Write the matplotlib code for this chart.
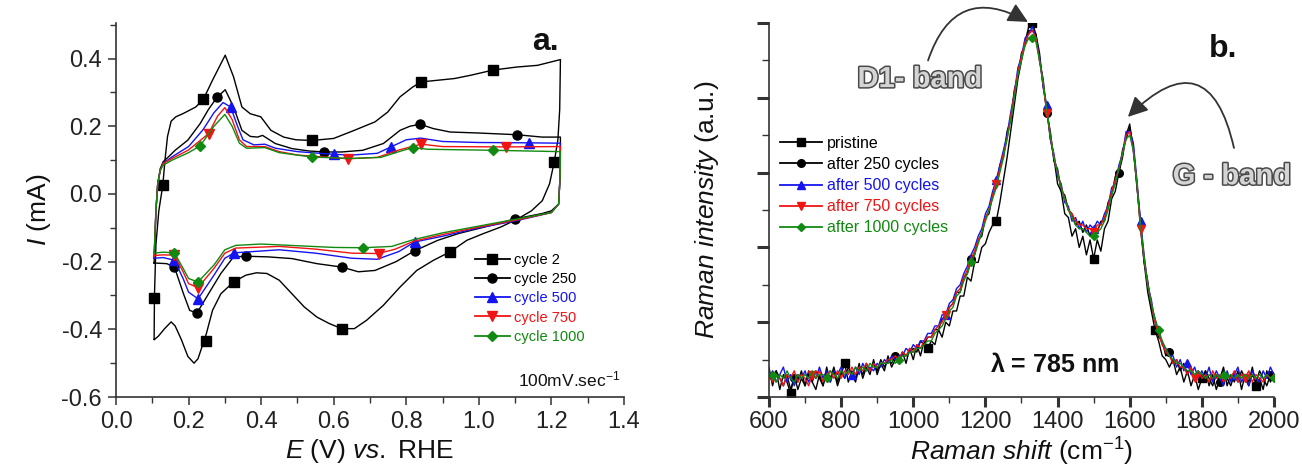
import numpy as np
import matplotlib
matplotlib.use("Agg")
import matplotlib.pyplot as plt
from matplotlib.lines import Line2D
from matplotlib.patches import FancyArrowPatch
from matplotlib.ticker import MultipleLocator
import matplotlib.patheffects as pe

plt.rcParams['font.family'] = ['Liberation Sans', 'DejaVu Sans']
plt.rcParams['mathtext.fontset'] = 'custom'
plt.rcParams['mathtext.rm'] = 'Liberation Sans'
plt.rcParams['mathtext.it'] = 'Liberation Sans:italic'
plt.rcParams['mathtext.bf'] = 'Liberation Sans:bold'

# ---------------- panel a: cyclic voltammograms ----------------
cycle_labels = ['cycle 2', 'cycle 250', 'cycle 500', 'cycle 750', 'cycle 1000']

# cycle 2
c2_E = [0.105, 0.106, 0.110, 0.118, 0.129, 0.135, 0.142, 0.152, 0.165, 0.186, 0.220, 0.241, 0.266,
        0.301, 0.324, 0.347, 0.370, 0.399, 0.427, 0.462, 0.496, 0.540, 0.600, 0.657, 0.714, 0.749,
        0.783, 0.818, 0.841, 0.887, 0.933, 0.979, 1.039, 1.105, 1.162, 1.225,
        1.225, 1.223, 1.218, 1.208, 1.195, 1.175, 1.145, 1.105, 1.060, 1.013, 0.967, 0.921, 0.875,
        0.829, 0.783, 0.737, 0.691, 0.657, 0.622, 0.588, 0.554, 0.519, 0.485, 0.450, 0.416, 0.387,
        0.358, 0.324, 0.289, 0.266, 0.249, 0.226, 0.215, 0.198, 0.180, 0.163, 0.152, 0.134, 0.117, 0.106]
c2_I = [-0.43, -0.30, -0.15, -0.05, 0.026, 0.10, 0.17, 0.215, 0.228, 0.238, 0.257, 0.280, 0.336,
        0.410, 0.346, 0.257, 0.237, 0.228, 0.188, 0.168, 0.160, 0.158, 0.164, 0.188, 0.213, 0.242,
        0.287, 0.316, 0.331, 0.336, 0.341, 0.351, 0.366, 0.375, 0.380, 0.397,
        0.397, 0.25, 0.16, 0.095, 0.03, -0.02, -0.05, -0.075, -0.098, -0.117, -0.137, -0.171, -0.196,
        -0.226, -0.275, -0.329, -0.373, -0.398, -0.398, -0.383, -0.364, -0.334, -0.295, -0.255, -0.235, -0.233,
        -0.240, -0.260, -0.295, -0.344, -0.413, -0.487, -0.500, -0.480, -0.430, -0.390, -0.378, -0.398, -0.420, -0.430]
c2_mE = [0.106, 0.129, 0.241, 0.540, 0.841, 1.039, 1.208, 0.921, 0.622, 0.324, 0.249]
c2_mI = [-0.307, 0.026, 0.280, 0.158, 0.331, 0.366, 0.095, -0.171, -0.398, -0.260, -0.434]

# cycle 250
c250_E = [0.105, 0.107, 0.110, 0.115, 0.122, 0.130, 0.145, 0.163, 0.198, 0.232, 0.255, 0.278, 0.301,
          0.324, 0.347, 0.370, 0.390, 0.404, 0.439, 0.485, 0.531, 0.574, 0.622, 0.680, 0.737, 0.783,
          0.810, 0.838, 0.875, 0.921, 1.000, 1.105, 1.174, 1.225,
          1.225, 1.224, 1.220, 1.200, 1.174, 1.099, 1.059, 1.000, 0.944, 0.887, 0.823, 0.772, 0.714,
          0.668, 0.622, 0.554, 0.485, 0.420, 0.358, 0.324, 0.289, 0.255, 0.223, 0.203, 0.186, 0.161,
          0.140, 0.105]
c250_I = [-0.204, -0.15, -0.05, 0.03, 0.075, 0.095, 0.110, 0.129, 0.159, 0.208, 0.250, 0.285, 0.308,
          0.257, 0.188, 0.170, 0.168, 0.173, 0.149, 0.134, 0.127, 0.124, 0.124, 0.129, 0.149, 0.188,
          0.200, 0.206, 0.193, 0.183, 0.180, 0.175, 0.168, 0.168,
          0.168, 0.05, -0.03, -0.05, -0.058, -0.074, -0.086, -0.102, -0.117, -0.137, -0.168, -0.200, -0.226,
          -0.230, -0.216, -0.206, -0.191, -0.186, -0.184, -0.186, -0.235, -0.295, -0.352, -0.344, -0.295, -0.216,
          -0.206, -0.204]
c250_mE = [0.278, 0.574, 0.838, 1.105, 1.099, 0.823, 0.622, 0.358, 0.223, 0.161]
c250_mI = [0.285, 0.124, 0.206, 0.175, -0.074, -0.168, -0.216, -0.184, -0.352, -0.216]

# cycle 500
c500_E = [0.105, 0.107, 0.110, 0.115, 0.122, 0.130, 0.155, 0.200, 0.240, 0.270, 0.295, 0.316, 0.335,
          0.350, 0.380, 0.410, 0.440, 0.500, 0.600, 0.650, 0.720, 0.758, 0.800, 0.840, 0.900, 1.000,
          1.139, 1.225,
          1.225, 1.224, 1.220, 1.200, 1.100, 1.000, 0.900, 0.823, 0.780, 0.720, 0.650, 0.550, 0.450,
          0.326, 0.300, 0.270, 0.226, 0.200, 0.185, 0.161, 0.130, 0.105]
c500_I = [-0.19, -0.14, -0.05, 0.03, 0.07, 0.09, 0.11, 0.14, 0.19, 0.24, 0.27, 0.257, 0.20,
          0.16, 0.145, 0.147, 0.135, 0.125, 0.117, 0.115, 0.120, 0.139, 0.160, 0.165, 0.155, 0.152,
          0.151, 0.150,
          0.150, 0.05, -0.03, -0.055, -0.08, -0.10, -0.125, -0.142, -0.17, -0.193, -0.19, -0.175, -0.165,
          -0.174, -0.19, -0.24, -0.31, -0.29, -0.25, -0.196, -0.188, -0.19]
c500_mE = [0.316, 0.600, 0.758, 1.139, 0.823, 0.326, 0.226, 0.161]
c500_mI = [0.257, 0.117, 0.139, 0.151, -0.142, -0.174, -0.310, -0.196]

# cycle 750
c750_E = [0.105, 0.107, 0.110, 0.115, 0.122, 0.130, 0.155, 0.200, 0.255, 0.280, 0.300, 0.320, 0.340,
          0.360, 0.410, 0.450, 0.500, 0.640, 0.720, 0.780, 0.841, 0.900, 1.076, 1.225,
          1.225, 1.224, 1.220, 1.200, 1.100, 1.000, 0.900, 0.820, 0.770, 0.724, 0.650, 0.550, 0.450,
          0.330, 0.300, 0.270, 0.226, 0.200, 0.185, 0.161, 0.130, 0.105]
c750_I = [-0.185, -0.13, -0.05, 0.03, 0.07, 0.09, 0.105, 0.13, 0.178, 0.23, 0.255, 0.22, 0.16,
          0.14, 0.14, 0.125, 0.115, 0.104, 0.108, 0.13, 0.147, 0.14, 0.139, 0.14,
          0.14, 0.05, -0.03, -0.055, -0.078, -0.098, -0.12, -0.14, -0.163, -0.176, -0.175, -0.163, -0.155,
          -0.16, -0.175, -0.22, -0.277, -0.265, -0.23, -0.181, -0.18, -0.182]
c750_mE = [0.255, 0.640, 0.841, 1.076, 0.724, 0.226, 0.161]
c750_mI = [0.178, 0.104, 0.147, 0.139, -0.176, -0.277, -0.181]

# cycle 1000
c1000_E = [0.105, 0.107, 0.110, 0.115, 0.122, 0.130, 0.155, 0.200, 0.232, 0.270, 0.300, 0.320, 0.340,
           0.360, 0.410, 0.450, 0.540, 0.650, 0.730, 0.780, 0.818, 0.860, 1.039, 1.225,
           1.225, 1.224, 1.220, 1.200, 1.100, 1.000, 0.900, 0.820, 0.760, 0.680, 0.600, 0.500, 0.400,
           0.330, 0.300, 0.270, 0.226, 0.200, 0.185, 0.161, 0.130, 0.105]
c1000_I = [-0.175, -0.13, -0.05, 0.03, 0.07, 0.085, 0.10, 0.122, 0.142, 0.20, 0.235, 0.20, 0.15,
           0.135, 0.137, 0.122, 0.109, 0.105, 0.108, 0.125, 0.137, 0.132, 0.129, 0.125,
           0.125, 0.05, -0.03, -0.055, -0.075, -0.095, -0.115, -0.135, -0.155, -0.159, -0.158, -0.153, -0.148,
           -0.152, -0.165, -0.21, -0.26, -0.25, -0.22, -0.174, -0.172, -0.175]
c1000_mE = [0.232, 0.540, 0.818, 1.039, 0.680, 0.226, 0.161]
c1000_mI = [0.142, 0.109, 0.137, 0.129, -0.159, -0.260, -0.174]

# ---------------- panel b: Raman spectra ----------------
raman_labels = ['pristine', 'after 250 cycles', 'after 500 cycles', 'after 750 cycles', 'after 1000 cycles']
raman_shift = np.arange(600, 2001, 10)

r_pristine = [8, 3, 7, 2, 6, 4, 1, 6, 2, 5, 3, 7, 4, 2, 6, 3, 8, 4, 7, 3, 6, 9, 4, 7, 5, 9, 5, 8, 6, 10, 6,
              9, 7, 11, 8, 10, 9, 12, 9, 13, 10,
              14, 11, 15, 13, 15, 14, 18, 16, 20, 19,
              23, 23, 27, 27, 32, 31, 36, 36, 40, 41,
              44, 46, 47, 52, 58, 64, 71, 78, 85, 90,
              95, 99, 100, 97, 92, 83, 77, 69, 64, 57,
              55, 49, 48, 43, 45, 40, 43, 38, 42, 37,
              42, 39, 45, 47, 53, 55, 60, 64, 70, 73,
              66, 57, 45, 36, 28, 23, 18, 15, 11, 10,
              8, 10, 6, 8, 4, 7, 3, 6, 2, 5,
              7, 3, 6, 2, 5, 8, 3, 6, 4, 7,
              2, 6, 4, 8, 3, 5, 2, 7, 4, 6]
r_250 = [6, 4, 7, 5, 3, 6, 2, 5, 4, 7, 3, 6, 4, 7, 5, 3, 7, 5, 8, 4, 7, 5, 8, 6, 4, 8, 6, 9, 7, 9, 7,
         10, 8, 10, 9, 11, 10, 12, 11, 12, 13,
         12, 15, 14, 16, 16, 18, 18, 21, 21, 24,
         25, 28, 28, 32, 33, 37, 38, 42, 43, 48,
         49, 54, 56, 62, 64, 71, 74, 82, 86, 92,
         94, 98, 98, 97, 90, 85, 76, 71, 63, 61,
         55, 54, 50, 49, 46, 47, 44, 46, 43, 45,
         44, 47, 47, 52, 54, 59, 60, 66, 69, 72,
         67, 56, 47, 36, 31, 24, 21, 16, 15, 11,
         12, 9, 10, 7, 9, 6, 8, 5, 7, 4,
         7, 5, 3, 6, 4, 7, 5, 3, 6, 4,
         7, 5, 3, 6, 4, 7, 5, 3, 6, 5]
r_500 = [5, 7, 4, 6, 8, 4, 6, 3, 6, 5, 7, 4, 6, 5, 8, 5, 7, 4, 7, 6, 8, 5, 7, 6, 8, 6, 9, 7, 8, 7, 9,
         8, 10, 9, 11, 10, 11, 11, 13, 12, 14,
         13, 15, 15, 17, 17, 19, 19, 22, 22, 25,
         26, 29, 30, 33, 35, 38, 40, 43, 45, 49,
         51, 55, 58, 62, 66, 70, 76, 81, 88, 91,
         96, 97, 99, 96, 91, 83, 78, 69, 65, 59,
         57, 52, 51, 47, 48, 45, 47, 44, 46, 45,
         47, 46, 49, 51, 56, 57, 62, 65, 71, 71,
         68, 58, 47, 38, 30, 26, 20, 18, 14, 13,
         11, 11, 8, 10, 7, 9, 6, 8, 5, 7,
         5, 8, 4, 7, 5, 3, 7, 4, 6, 8,
         4, 6, 3, 7, 5, 4, 7, 5, 8, 6]
r_750 = [6, 4, 6, 5, 3, 6, 5, 7, 4, 6, 5, 3, 6, 5, 7, 4, 6, 7, 5, 7, 5, 7, 6, 8, 6, 8, 7, 9, 7, 9, 8,
         9, 9, 10, 10, 11, 10, 12, 11, 13, 12,
         14, 13, 15, 16, 16, 18, 19, 20, 22, 24,
         25, 28, 29, 32, 34, 37, 39, 42, 44, 48,
         50, 54, 57, 61, 65, 69, 75, 81, 87, 91,
         95, 97, 98, 96, 90, 84, 76, 70, 64, 60,
         56, 53, 50, 49, 47, 46, 46, 45, 45, 44,
         46, 46, 48, 51, 55, 58, 61, 65, 70, 71,
         66, 57, 45, 37, 30, 25, 20, 17, 14, 12,
         11, 9, 10, 8, 8, 6, 8, 5, 7, 5,
         6, 4, 7, 5, 6, 4, 6, 5, 7, 4,
         6, 5, 7, 4, 6, 5, 4, 6, 5, 6]
r_1000 = [5, 6, 4, 6, 5, 7, 5, 4, 6, 5, 6, 5, 7, 5, 6, 6, 5, 7, 6, 5, 7, 6, 7, 6, 8, 7, 8, 7, 9, 8, 8,
          9, 9, 9, 10, 9, 10, 11, 11, 12, 12,
          13, 13, 14, 15, 15, 17, 18, 19, 21, 23,
          24, 27, 28, 31, 33, 36, 38, 41, 44, 47,
          50, 53, 56, 60, 64, 69, 74, 80, 86, 90,
          94, 96, 96, 95, 90, 84, 77, 70, 64, 60,
          56, 53, 50, 48, 46, 45, 45, 44, 43, 43,
          44, 45, 47, 50, 54, 57, 61, 65, 69, 70,
          66, 57, 46, 37, 30, 25, 21, 18, 15, 13,
          11, 10, 9, 9, 8, 7, 7, 6, 7, 6,
          5, 6, 5, 6, 5, 6, 5, 6, 5, 6,
          5, 6, 5, 6, 5, 6, 5, 6, 5, 5]

# marker positions (indices into raman_shift)
mk_pristine = [6, 21, 44, 63, 73, 90, 107, 120, 135]
mk_250 = [7, 35, 56, 77, 97, 111, 125, 139]
mk_500 = [23, 49, 63, 77, 90, 103, 116, 129]
mk_750 = [12, 49, 63, 77, 90, 103, 118, 132]
mk_1000 = [1, 16, 36, 56, 73, 90, 108, 126, 140]

colors = ['black', 'black', '#1414f0', '#f01414', '#108a10']
markers = ['s', 'o', '^', 'v', 'D']
msizes = [6.5, 6.5, 7, 7, 5.5]

fig = plt.figure(figsize=(13.02, 4.70), dpi=100)

# ===== panel a =====
ax1 = fig.add_axes([0.0891, 0.1553, 0.3901, 0.7957])
cv_lines = [(c2_E, c2_I, c2_mE, c2_mI), (c250_E, c250_I, c250_mE, c250_mI),
            (c500_E, c500_I, c500_mE, c500_mI), (c750_E, c750_I, c750_mE, c750_mI),
            (c1000_E, c1000_I, c1000_mE, c1000_mI)]
handles = []
for (E, I, mE, mI), col, mk, ms in zip(cv_lines, colors, markers, msizes):
    ax1.plot(E, I, color=col, lw=1.0)
    ax1.plot(mE, mI, ls='none', marker=mk, ms=ms, color=col, mec=col)
    handles.append(Line2D([], [], color=col, lw=1.3, marker=mk, ms=ms))

ax1.set_xlim(0.0, 1.4)
ax1.set_ylim(-0.6, 0.505)
ax1.xaxis.set_major_locator(MultipleLocator(0.2))
ax1.xaxis.set_minor_locator(MultipleLocator(0.1))
ax1.yaxis.set_major_locator(MultipleLocator(0.2))
ax1.yaxis.set_minor_locator(MultipleLocator(0.1))
ax1.set_yticks([0.4, 0.2, 0.0, -0.2, -0.4, -0.6])
ax1.xaxis.set_major_formatter(plt.FuncFormatter(lambda v, p: f"{v:.1f}"))
ax1.yaxis.set_major_formatter(plt.FuncFormatter(lambda v, p: f"{v:.1f}".replace('-0.0', '0.0')))
for s in ['top', 'right']:
    ax1.spines[s].set_visible(False)
for s in ['left', 'bottom']:
    ax1.spines[s].set_color('#333333')
    ax1.spines[s].set_linewidth(1.2)
ax1.tick_params(which='major', direction='out', length=6, width=1.1, colors='#333333',
                labelsize=17, labelcolor='#222222', pad=4)
ax1.tick_params(which='minor', direction='out', length=4, width=1.0, colors='#333333')
ax1.set_xlabel(r'$\it{E}$ (V) $\it{vs.}$ RHE', fontsize=19, color='#111111', labelpad=3)
ax1.set_ylabel(r'$\it{I}$ (mA)', fontsize=19, color='#111111', labelpad=6)

leg1 = ax1.legend(handles, cycle_labels, loc='upper left', bbox_to_anchor=(0.695, 0.40),
                  frameon=False, fontsize=10.5, handlelength=2.4, handletextpad=0.3,
                  labelspacing=0.35, borderaxespad=0)
for t, col in zip(leg1.get_texts(), colors):
    t.set_color(col)

ax1.text(0.992, 0.02, r'100mV.sec$^{\mathregular{-1}}$', transform=ax1.transAxes,
         ha='right', va='bottom', fontsize=12.5, color='#111111')
ax1.text(0.845, 0.95, 'a.', transform=ax1.transAxes, ha='center', va='center',
         fontsize=23, fontweight='bold', color='#111111')

# ===== panel b =====
ax2 = fig.add_axes([0.5906, 0.1553, 0.3879, 0.7957])
spectra = [r_pristine, r_250, r_500, r_750, r_1000]
marks = [mk_pristine, mk_250, mk_500, mk_750, mk_1000]
handles2 = []
for y, col, mk, ms, mi in zip(spectra, colors, markers, msizes, marks):
    ax2.plot(raman_shift, y, color=col, lw=1.0, marker=mk, ms=ms - 1, markevery=mi, mec=col)
    handles2.append(Line2D([], [], color=col, lw=1.3, marker=mk, ms=ms - 1))

ax2.set_xlim(600, 2000)
ax2.set_ylim(0, 100)
ax2.xaxis.set_major_locator(MultipleLocator(200))
ax2.xaxis.set_minor_locator(MultipleLocator(100))
ax2.yaxis.set_major_locator(MultipleLocator(20))
ax2.yaxis.set_minor_locator(MultipleLocator(10))
ax2.set_yticklabels([])
for s in ['top', 'right']:
    ax2.spines[s].set_visible(False)
for s in ['left', 'bottom']:
    ax2.spines[s].set_color('#333333')
    ax2.spines[s].set_linewidth(1.2)
ax2.tick_params(axis='x', which='major', direction='out', length=7, width=2.2, colors='#333333',
                labelsize=17, labelcolor='#222222', pad=3)
ax2.tick_params(axis='x', which='minor', direction='out', length=4, width=1.0, colors='#333333')
ax2.tick_params(axis='y', which='major', direction='out', length=9, width=2.2, colors='#333333')
ax2.tick_params(axis='y', which='minor', direction='out', length=5, width=1.0, colors='#333333')
ax2.set_xlabel(r'$\it{Raman\ shift}$ (cm$^{\mathregular{-1}}$)', fontsize=19, color='#111111', labelpad=2)
ax2.set_ylabel(r'$\it{Raman\ intensity}$ (a.u.)', fontsize=19, color='#111111', labelpad=22)

leg2 = ax2.legend(handles2, raman_labels, loc='upper left', bbox_to_anchor=(0.01, 0.715),
                  frameon=False, fontsize=11.5, handlelength=2.6, handletextpad=0.3,
                  labelspacing=0.38, borderaxespad=0)
for t, col in zip(leg2.get_texts(), colors):
    t.set_color(col)

outline = [pe.withStroke(linewidth=2.2, foreground='#4a4a4a')]
ax2.text(1018, 85, 'D1- band', ha='center', va='center', fontsize=21, fontweight='bold',
         color='#d4d4d4', path_effects=outline)
ax2.text(1883, 59, 'G - band', ha='center', va='center', fontsize=21, fontweight='bold',
         color='#d4d4d4', path_effects=outline)
ax2.text(1393, 8.6, r'$\mathbf{\lambda}$ = 785 nm', ha='center', va='center', fontsize=18,
         fontweight='bold', color='#111111')
ax2.text(0.9, 0.93, 'b.', transform=ax2.transAxes, ha='center', va='center',
         fontsize=23, fontweight='bold', color='#111111')

arrow_d = FancyArrowPatch((1041, 90), (1318, 100.3), connectionstyle='arc3,rad=-0.6',
                          arrowstyle='-|>,head_length=12,head_width=6', mutation_scale=1,
                          color='#333333', facecolor='#cfcfcf', lw=1.3, clip_on=False,
                          shrinkA=0, shrinkB=0)
ax2.add_patch(arrow_d)
arrow_g = FancyArrowPatch((1889, 66.6), (1595, 74.9), connectionstyle='arc3,rad=0.9',
                          arrowstyle='-|>,head_length=12,head_width=6', mutation_scale=1,
                          color='#333333', facecolor='#cfcfcf', lw=1.3, clip_on=False,
                          shrinkA=0, shrinkB=0)
ax2.add_patch(arrow_g)

fig.savefig('out.png', dpi=100)
